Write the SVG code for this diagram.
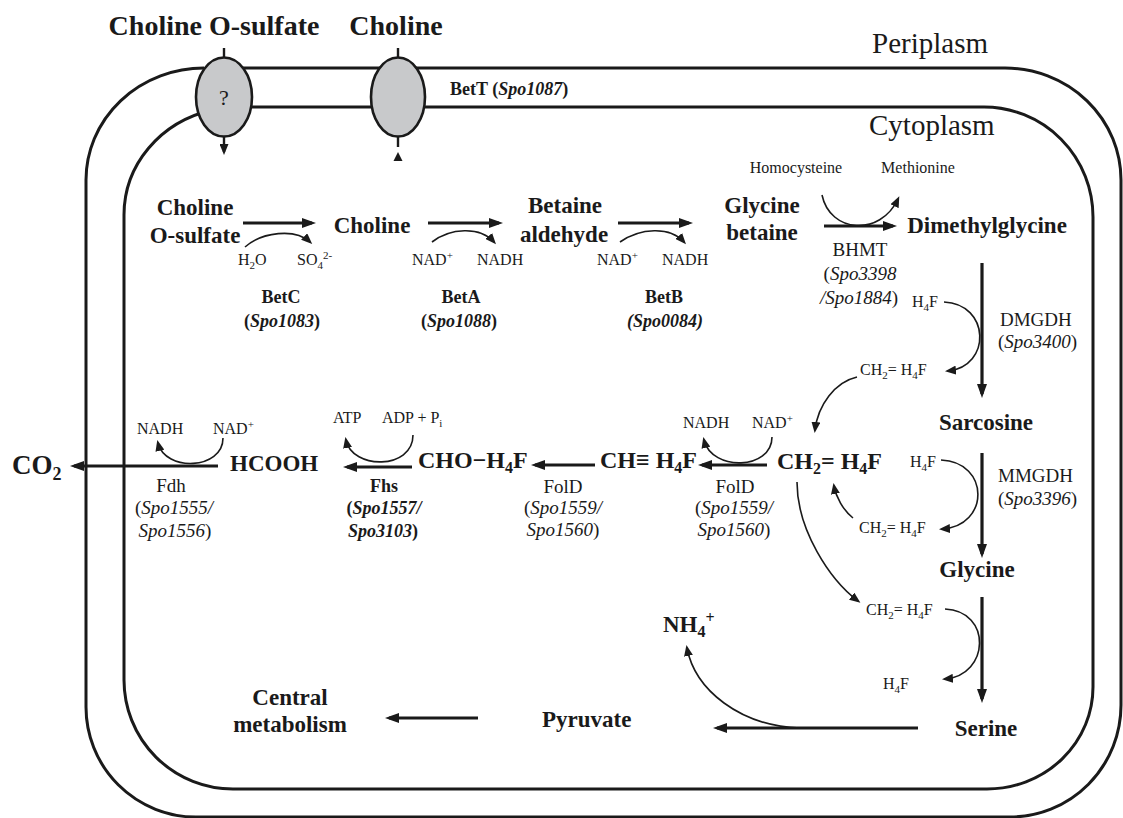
<svg xmlns="http://www.w3.org/2000/svg" width="1123" height="818" viewBox="0 0 1123 818">
<defs>
<style>
text{font-family:"Liberation Serif","Times New Roman",serif;fill:#1a1a1a}
.n{font-size:23px;font-weight:bold}
.nb{font-size:24px;font-weight:bold}
.s{font-size:16px}
.e{font-size:19px}
.eb{font-size:18px;font-weight:bold}
.i{font-style:italic}
.mem{fill:none;stroke:#1a1a1a;stroke-width:3}
.thick{fill:none;stroke:#1a1a1a;stroke-width:3.2}
.thin{fill:none;stroke:#1a1a1a;stroke-width:1.6}
.tp{fill:#c8c9cb;stroke:#1a1a1a;stroke-width:2.6}
</style>
<marker id="ah" viewBox="0 0 14 10" refX="10" refY="5" markerWidth="14" markerHeight="10" markerUnits="userSpaceOnUse" orient="auto"><path d="M0,0 L14,5 L0,10 z" fill="#1a1a1a"/></marker>
<marker id="as" viewBox="0 0 11 9" refX="8" refY="4.5" markerWidth="11" markerHeight="9" markerUnits="userSpaceOnUse" orient="auto"><path d="M0,0 L11,4.5 L0,9 z" fill="#1a1a1a"/></marker>
</defs>
<rect width="1123" height="818" fill="#fff"/>

<g id="membranes">
<path class="mem" d="M212,68 L1005,68 A116 112 0 0 1 1121,180 L1121,705 A111 112 0 0 1 1010,817 L196,817 A110 110 0 0 1 86,707 L86,180 A118 112 0 0 1 204,68"/>
<path class="mem" d="M212,107 L984,107 A109 110 0 0 1 1093,217 L1093,687 A106 102 0 0 1 987,789 L233,789 A109 109 0 0 1 124,680 L124,215 C124,165 160,122 212,110"/>
</g>

<g id="transporter-unknown">
<line class="thin" x1="224" y1="48" x2="224" y2="58" style="stroke-width:2.4"/>
<ellipse class="tp" cx="224" cy="97" rx="28" ry="39.5"/>
<text x="224" y="105" text-anchor="middle" style="font-size:22px">?</text>
</g>
<g id="transporter-BetT">
<line class="thin" x1="398" y1="48" x2="398" y2="58" style="stroke-width:2.4"/>
<ellipse class="tp" cx="398" cy="97" rx="27" ry="39.5"/>
<text x="450" y="95" class="eb">BetT (<tspan class="i">Spo1087</tspan>)</text>
</g>

<g id="labels">
<text x="214" y="35" style="font-size:28px;font-weight:bold" text-anchor="middle">Choline O-sulfate</text>
<text x="396" y="35" style="font-size:28px;font-weight:bold" text-anchor="middle">Choline</text>
<text x="872" y="53" style="font-size:29px">Periplasm</text>
<text x="869" y="135" style="font-size:29px">Cytoplasm</text>
</g>

<g id="connectors">
<line class="thick" x1="224" y1="137" x2="224" y2="152" style="stroke-width:2.4" marker-end="url(#as)"/>
<line class="thick" x1="398" y1="137" x2="398" y2="147" style="stroke-width:2.4"/>
<polygon points="393.5,161 402.5,161 398,152" fill="#1a1a1a"/>

<line class="thick" x1="243" y1="223" x2="312" y2="223" marker-end="url(#ah)"/>
<path class="thin" d="M245,247 C262,232 295,228 310,242" marker-end="url(#as)"/>
<line class="thick" x1="428" y1="223" x2="499" y2="223" marker-end="url(#ah)"/>
<path class="thin" d="M432,242 C450,228 480,226 494,242" marker-end="url(#as)"/>
<line class="thick" x1="618" y1="223" x2="689" y2="223" marker-end="url(#ah)"/>
<path class="thin" d="M620,242 C640,228 670,226 684,242" marker-end="url(#as)"/>
<line class="thick" x1="824" y1="226" x2="893" y2="226" marker-end="url(#ah)"/>
<path class="thin" d="M822,195 C830,233 880,237 898,199" marker-end="url(#as)"/>

<line class="thick" x1="982" y1="263" x2="982" y2="394" marker-end="url(#ah)"/>
<path class="thin" d="M944,302 C990,304 992,366 948,371" marker-end="url(#as)"/>
<path class="thin" d="M857,377 C835,382 818,405 815,430" marker-end="url(#as)"/>

<line class="thick" x1="982" y1="453" x2="982" y2="554" marker-end="url(#ah)"/>
<path class="thin" d="M941,460 C990,462 990,526 942,529" marker-end="url(#as)"/>
<path class="thin" d="M853,518 C843,510 836,497 834,486" marker-end="url(#as)"/>
<path class="thin" d="M797,482 C797,530 830,580 858,601" marker-end="url(#as)"/>

<line class="thick" x1="982" y1="597" x2="982" y2="699" marker-end="url(#ah)"/>
<path class="thin" d="M945,609 C992,611 990,675 945,679" marker-end="url(#as)"/>

<line class="thick" x1="918" y1="728" x2="717" y2="728" marker-end="url(#ah)"/>
<path class="thin" d="M800,728 C740,726 695,690 687,648" marker-end="url(#as)"/>
<line class="thick" x1="478" y1="718" x2="389" y2="718" marker-end="url(#ah)"/>

<line class="thick" x1="767" y1="465" x2="702" y2="465" marker-end="url(#ah)"/>
<path class="thin" d="M772,437 C772,470 712,472 704,440" marker-end="url(#as)"/>
<line class="thick" x1="595" y1="465" x2="535" y2="465" marker-end="url(#ah)"/>
<line class="thick" x1="412" y1="467" x2="347" y2="467" marker-end="url(#ah)"/>
<path class="thin" d="M413,435 C413,470 352,470 346,440" marker-end="url(#as)"/>
<line class="thick" x1="218" y1="466" x2="74" y2="466" marker-end="url(#ah)"/>
<path class="thin" d="M223,438 C223,470 165,472 158,443" marker-end="url(#as)"/>
</g>

<g id="node-choline-o-sulfate"><text class="n" x="195" y="215" text-anchor="middle">Choline</text><text class="n" x="195" y="243" text-anchor="middle">O-sulfate</text></g>
<g id="node-choline"><text class="n" x="372" y="233" text-anchor="middle">Choline</text></g>
<g id="node-betaine-aldehyde"><text class="n" x="565" y="213" text-anchor="middle">Betaine</text><text class="n" x="564" y="242" text-anchor="middle">aldehyde</text></g>
<g id="node-glycine-betaine"><text class="n" x="762" y="213" text-anchor="middle">Glycine</text><text class="n" x="762" y="240" text-anchor="middle">betaine</text></g>
<g id="node-dimethylglycine"><text class="n" x="987" y="233" text-anchor="middle">Dimethylglycine</text></g>
<g id="node-sarcosine"><text class="n" x="986" y="430" text-anchor="middle">Sarcosine</text></g>
<g id="node-glycine"><text class="n" x="977" y="577" text-anchor="middle">Glycine</text></g>
<g id="node-serine"><text class="n" x="986" y="736" text-anchor="middle">Serine</text></g>
<g id="node-pyruvate"><text class="n" x="542" y="727">Pyruvate</text></g>
<g id="node-central"><text class="n" x="290" y="705" text-anchor="middle">Central</text><text class="n" x="290" y="732" text-anchor="middle">metabolism</text></g>
<g id="node-nh4"><text class="n" x="663" y="632">NH<tspan dy="5" style="font-size:16px">4</tspan><tspan dy="-14" style="font-size:16px">+</tspan></text></g>
<g id="node-ch2h4f"><text x="777" y="469" style="font-size:24px;font-weight:bold">CH<tspan dy="5" style="font-size:16px">2</tspan><tspan dy="-5">= H</tspan><tspan dy="5" style="font-size:16px">4</tspan><tspan dy="-5">F</tspan></text></g>
<g id="node-chh4f"><text class="nb" x="600" y="468">CH≡ H<tspan dy="5" style="font-size:16px">4</tspan><tspan dy="-5">F</tspan></text></g>
<g id="node-choh4f"><text class="nb" x="418" y="468">CHO−H<tspan dy="5" style="font-size:16px">4</tspan><tspan dy="-5">F</tspan></text></g>
<g id="node-hcooh"><text class="n" x="230" y="471">HCOOH</text></g>
<g id="node-co2"><text x="12" y="474" style="font-size:27px;font-weight:bold">CO<tspan dy="6" style="font-size:18px">2</tspan></text></g>

<g id="cofactors">
<text class="s" x="238" y="265">H<tspan dy="4" style="font-size:11px">2</tspan><tspan dy="-4">O</tspan></text>
<text class="s" x="297" y="265">SO<tspan dy="4" style="font-size:11px">4</tspan><tspan dy="-10" style="font-size:11px">2-</tspan></text>
<text class="s" x="412" y="265">NAD<tspan dy="-6" style="font-size:11px">+</tspan></text>
<text class="s" x="477" y="265">NADH</text>
<text class="s" x="597" y="265">NAD<tspan dy="-6" style="font-size:11px">+</tspan></text>
<text class="s" x="662" y="265">NADH</text>
<text class="s" x="796" y="173" text-anchor="middle">Homocysteine</text>
<text class="s" x="918" y="173" text-anchor="middle">Methionine</text>
<text class="s" x="912" y="307">H<tspan dy="4" style="font-size:11px">4</tspan><tspan dy="-4">F</tspan></text>
<text class="s" x="860" y="375">CH<tspan dy="4" style="font-size:11px">2</tspan><tspan dy="-4">= H</tspan><tspan dy="4" style="font-size:11px">4</tspan><tspan dy="-4">F</tspan></text>
<text class="s" x="910" y="467">H<tspan dy="4" style="font-size:11px">4</tspan><tspan dy="-4">F</tspan></text>
<text class="s" x="859" y="533">CH<tspan dy="4" style="font-size:11px">2</tspan><tspan dy="-4">= H</tspan><tspan dy="4" style="font-size:11px">4</tspan><tspan dy="-4">F</tspan></text>
<text class="s" x="866" y="615">CH<tspan dy="4" style="font-size:11px">2</tspan><tspan dy="-4">= H</tspan><tspan dy="4" style="font-size:11px">4</tspan><tspan dy="-4">F</tspan></text>
<text class="s" x="883" y="689">H<tspan dy="4" style="font-size:11px">4</tspan><tspan dy="-4">F</tspan></text>
<text class="s" x="683" y="428">NADH</text>
<text class="s" x="752" y="428">NAD<tspan dy="-6" style="font-size:11px">+</tspan></text>
<text class="s" x="333" y="423">ATP</text>
<text class="s" x="382" y="423">ADP + P<tspan dy="4" style="font-size:11px">i</tspan></text>
<text class="s" x="137" y="434">NADH</text>
<text class="s" x="213" y="434">NAD<tspan dy="-6" style="font-size:11px">+</tspan></text>
</g>

<g id="enzymes">
<text class="eb" x="281" y="303" text-anchor="middle">BetC</text>
<text class="eb" x="282" y="327" text-anchor="middle">(<tspan class="i">Spo1083</tspan>)</text>
<text class="eb" x="461" y="303" text-anchor="middle">BetA</text>
<text class="eb" x="459" y="327" text-anchor="middle">(<tspan class="i">Spo1088</tspan>)</text>
<text class="eb" x="664" y="303" text-anchor="middle">BetB</text>
<text class="eb i" x="665" y="327" text-anchor="middle">(Spo0084)</text>
<text class="e" x="860" y="256" text-anchor="middle">BHMT</text>
<text class="e" x="860" y="280" text-anchor="middle">(<tspan class="i">Spo3398</tspan></text>
<text class="e" x="859" y="304" text-anchor="middle"><tspan class="i">/Spo1884</tspan>)</text>
<text class="e" x="1000" y="326">DMGDH</text>
<text class="e" x="998" y="348">(<tspan class="i">Spo3400</tspan>)</text>
<text class="e" x="998" y="482">MMGDH</text>
<text class="e" x="998" y="505">(<tspan class="i">Spo3396</tspan>)</text>
<text class="e" x="735" y="493" text-anchor="middle">FolD</text>
<text class="e" x="734" y="514" text-anchor="middle">(<tspan class="i">Spo1559/</tspan></text>
<text class="e" x="734" y="536" text-anchor="middle"><tspan class="i">Spo1560</tspan>)</text>
<text class="e" x="563" y="493" text-anchor="middle">FolD</text>
<text class="e" x="563" y="514" text-anchor="middle">(<tspan class="i">Spo1559/</tspan></text>
<text class="e" x="563" y="536" text-anchor="middle"><tspan class="i">Spo1560</tspan>)</text>
<text class="eb" x="384" y="492" text-anchor="middle">Fhs</text>
<text class="eb" x="384" y="514" text-anchor="middle">(<tspan class="i">Spo1557/</tspan></text>
<text class="eb" x="383" y="537" text-anchor="middle"><tspan class="i">Spo3103</tspan>)</text>
<text class="e" x="171" y="492" text-anchor="middle">Fdh</text>
<text class="e" x="174" y="514" text-anchor="middle">(<tspan class="i">Spo1555/</tspan></text>
<text class="e" x="175" y="537" text-anchor="middle"><tspan class="i">Spo1556</tspan>)</text>
</g>
</svg>
